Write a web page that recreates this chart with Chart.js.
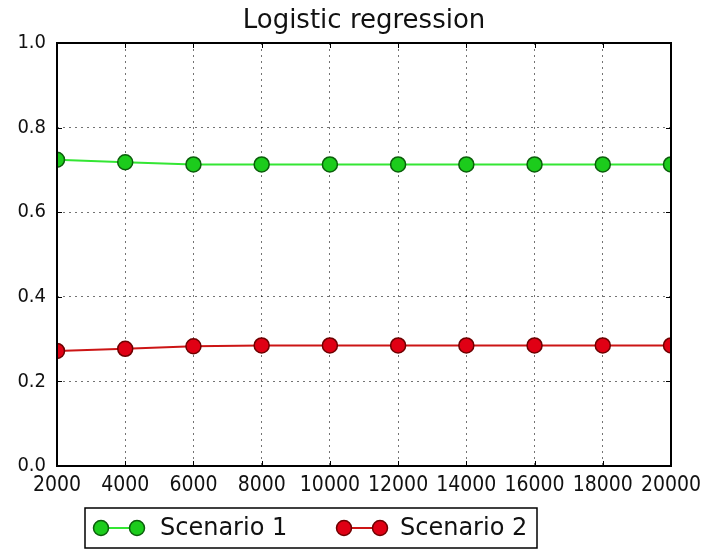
<!DOCTYPE html>
<html>
<head>
<meta charset="utf-8">
<script src="https://cdn.jsdelivr.net/npm/chart.js@4/dist/chart.umd.min.js"></script>
<style>
  html, body { margin: 0; padding: 0; background: #fff; }
  #wrap { width: 704px; height: 552px; }
</style>
</head>
<body>
<div id="wrap"><canvas id="c" width="704" height="552"></canvas></div>
<script>
// Training-set sizes on the x axis
const sampleSizes = [2000, 4000, 6000, 8000, 10000, 12000, 14000, 16000, 18000, 20000];
// Scores for each scenario
const scenario1 = [0.724, 0.718, 0.713, 0.713, 0.713, 0.713, 0.713, 0.713, 0.713, 0.713];
const scenario2 = [0.272, 0.277, 0.283, 0.285, 0.285, 0.285, 0.285, 0.285, 0.285, 0.285];
const seriesNames = ['Scenario 1', 'Scenario 2'];
const titleText = 'Logistic regression';

const FONT = '"DejaVu Sans", sans-serif';
const TICK_FONT = '"DejaVu Sans Condensed", "Liberation Sans Narrow", "DejaVu Sans", sans-serif';

// Frame, inward tick marks and the boxed legend below the axes
const framePlugin = {
  id: 'frame',
  afterDraw(chart) {
    const ctx = chart.ctx;
    const a = chart.chartArea;
    const xs = chart.scales.x, ys = chart.scales.y;
    ctx.save();
    ctx.strokeStyle = '#000';
    ctx.lineWidth = 1;
    ctx.beginPath();
    xs.ticks.forEach(t => {
      const px = Math.round(xs.getPixelForValue(t.value)) + 0.5;
      ctx.moveTo(px, a.top); ctx.lineTo(px, a.top + 5);
      ctx.moveTo(px, a.bottom); ctx.lineTo(px, a.bottom - 5);
    });
    ys.ticks.forEach(t => {
      const py = Math.round(ys.getPixelForValue(t.value)) + 0.5;
      ctx.moveTo(a.left, py); ctx.lineTo(a.left + 5, py);
      ctx.moveTo(a.right, py); ctx.lineTo(a.right - 5, py);
    });
    ctx.stroke();
    ctx.lineWidth = 2;
    ctx.strokeRect(a.left, a.top, a.right - a.left, a.bottom - a.top);

    // legend
    const bx = 85, by = 508, bw = 452, bh = 40;
    ctx.fillStyle = '#fff';
    ctx.fillRect(bx, by, bw, bh);
    ctx.lineWidth = 1.5;
    ctx.strokeStyle = '#000';
    ctx.strokeRect(bx, by, bw, bh);
    const cy = by + bh / 2;
    const items = [{ x0: 101, tx: 160 }, { x0: 344, tx: 400 }];
    chart.data.datasets.forEach((ds, i) => {
      const it = items[i];
      const x1 = it.x0 + 36;
      ctx.strokeStyle = ds.borderColor;
      ctx.lineWidth = 2;
      ctx.beginPath(); ctx.moveTo(it.x0, cy); ctx.lineTo(x1, cy); ctx.stroke();
      [it.x0, x1].forEach(px => {
        ctx.beginPath();
        ctx.arc(px, cy, ds.pointRadius, 0, Math.PI * 2);
        ctx.fillStyle = ds.pointBackgroundColor;
        ctx.fill();
        ctx.lineWidth = ds.pointBorderWidth;
        ctx.strokeStyle = ds.pointBorderColor;
        ctx.stroke();
      });
      ctx.fillStyle = '#111';
      ctx.font = '24px ' + FONT;
      ctx.textBaseline = 'middle';
      ctx.textAlign = 'left';
      ctx.fillText(ds.label, it.tx, cy + 1);
    });
    ctx.restore();
  }
};

new Chart(document.getElementById('c'), {
  type: 'line',
  data: {
    datasets: [
      {
        label: seriesNames[0],
        data: sampleSizes.map((x, i) => ({ x, y: scenario1[i] })),
        borderColor: '#33e633',
        borderWidth: 2,
        pointRadius: 7.5,
        pointBackgroundColor: '#1ccc1c',
        pointBorderColor: '#0b5e0b',
        pointBorderWidth: 1.5,
        clip: 0,
        tension: 0
      },
      {
        label: seriesNames[1],
        data: sampleSizes.map((x, i) => ({ x, y: scenario2[i] })),
        borderColor: '#cc1515',
        borderWidth: 2,
        pointRadius: 7.5,
        pointBackgroundColor: '#e00014',
        pointBorderColor: '#6e0000',
        pointBorderWidth: 1.5,
        clip: 0,
        tension: 0
      }
    ]
  },
  options: {
    responsive: false,
    animation: false,
    layout: { padding: { left: 0, right: 33, top: 0, bottom: 0 } },
    plugins: {
      legend: { display: false },
      tooltip: { enabled: false },
      title: {
        display: true,
        text: titleText,
        fullSize: false,
        color: '#111',
        font: { family: FONT, size: 26, weight: 'normal', lineHeight: 1.2 },
        padding: { top: 6, bottom: 5.8 }
      }
    },
    scales: {
      x: {
        type: 'linear',
        min: 2000,
        max: 20000,
        afterFit(s) { s.height = 86; s.paddingLeft = 0; s.paddingRight = 0; },
        afterBuildTicks(s) { s.ticks = sampleSizes.map(v => ({ value: v })); },
        ticks: {
          color: '#111',
          font: { family: TICK_FONT, size: 21 },
          padding: 7,
          maxRotation: 0,
          autoSkip: false,
          callback: v => String(v)
        },
        grid: { color: 'rgba(0,0,0,0.55)', borderDash: [2, 4], lineWidth: 1, drawTicks: false },
        border: { display: false, dash: [2, 4] }
      },
      y: {
        min: 0,
        max: 1,
        afterFit(s) { s.width = 57; s.paddingTop = 0; s.paddingBottom = 0; },
        ticks: {
          stepSize: 0.2,
          color: '#111',
          font: { family: TICK_FONT, size: 20 },
          padding: 11,
          callback: v => Number(v).toFixed(1)
        },
        grid: { color: 'rgba(0,0,0,0.55)', lineWidth: 1, drawTicks: false },
        border: { display: false, dash: [2, 4] }
      }
    }
  },
  plugins: [framePlugin]
});
</script>
</body>
</html>
